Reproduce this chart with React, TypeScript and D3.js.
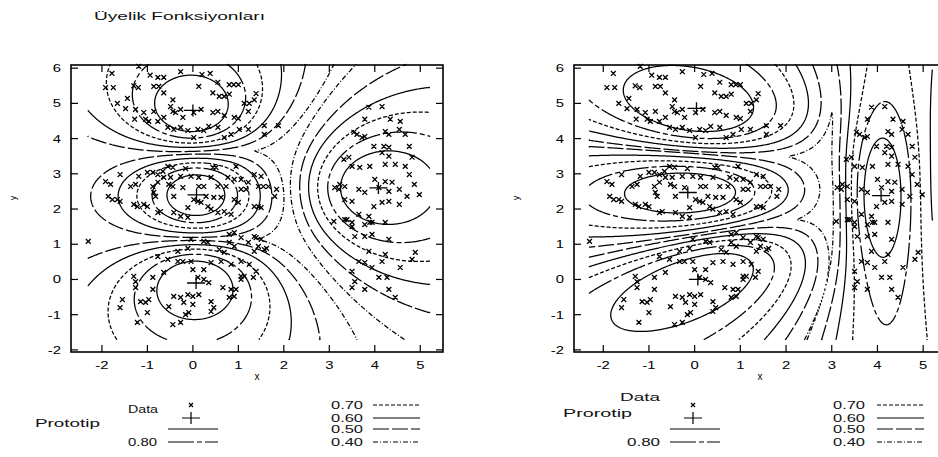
import * as d3 from "d3";

type Pt = [number, number];

// axis ticks
const xTicks = [-2, -1, 0, 1, 2, 3, 4, 5];
const yTicks = [-2, -1, 0, 1, 2, 3, 4, 5, 6];

// contour levels and their line styles (undefined = solid)
const levels = [0.9, 0.8, 0.7, 0.6, 0.5, 0.4];
const levelDashes = [undefined, "26,3,5,3", "4,2", undefined, "16,3", "5,2,1,2"];

// prototypes
const fcmCenters: Pt[] = [[0.0, 4.8], [0.08, 2.4], [0.07, -0.1], [4.08, 2.6]];
const gkCenters: Pt[] = [[0.04, 4.86], [-0.15, 2.47], [0.07, 0.0], [4.08, 2.38]];
const gkAxisRatio = [1.6, 1.9, 2.0, 3.7];
const gkAngle = [-12, 0, 28, 90];
const fuzzifier = 1.9;

// data points, by cluster
const pointsTop: Pt[] = [
  [-1.78, 5.85], [-1.19, 6.05], [-0.94, 5.8], [-0.77, 5.74], [-0.64, 5.74], [-0.27, 5.9], [0.2, 5.82],
  [0.38, 5.85], [0.55, 5.6], [0.8, 5.53], [0.9, 5.53], [1.0, 5.53], [-1.92, 5.45], [-1.75, 5.45],
  [-1.3, 5.5], [-1.2, 5.45], [-0.86, 5.48], [-0.75, 5.48], [-0.64, 5.3], [0.13, 5.48], [0.44, 5.3],
  [0.58, 5.2], [0.69, 5.2], [0.8, 5.26], [1.39, 5.28], [1.13, 5.0], [1.24, 5.0], [1.35, 5.1],
  [-1.66, 5.0], [-1.44, 5.14], [-1.48, 4.85], [-1.26, 4.83], [-1.08, 4.74], [-0.86, 4.77], [-0.44, 5.1],
  [-0.49, 4.91], [-0.44, 4.77], [-0.38, 4.74], [-0.27, 4.83], [-0.22, 4.6], [0.02, 4.74], [0.18, 4.83],
  [0.44, 4.74], [0.55, 4.77], [0.69, 4.66], [0.91, 4.6], [1.0, 4.57], [1.22, 4.77], [-1.28, 4.55],
  [-1.04, 4.55], [-0.97, 4.49], [-0.77, 4.49], [-0.64, 4.6], [-0.55, 4.32], [-0.42, 4.26], [-0.27, 4.32],
  [-0.11, 4.23], [0.11, 4.26], [0.24, 4.23], [0.35, 4.35], [0.55, 4.32], [0.84, 4.12], [1.02, 4.26],
  [1.22, 4.26], [1.57, 4.37], [1.88, 4.37], [1.57, 4.12], [0.02, 4.03], [0.69, 4.03],
];
const pointsMiddle: Pt[] = [
  [-0.55, 3.21], [-0.44, 3.18], [-0.16, 3.15], [0.44, 3.18], [0.51, 3.18], [0.95, 3.21], [-1.6, 2.98],
  [-1.19, 2.93], [-1.0, 3.04], [-0.88, 3.04], [-0.77, 2.98], [-0.66, 3.07], [-0.64, 2.9], [-0.49, 2.9],
  [-0.27, 2.93], [-0.04, 2.93], [0.13, 2.9], [0.4, 2.9], [0.77, 2.9], [0.91, 2.84], [1.06, 2.84],
  [1.22, 2.76], [1.35, 2.98], [-1.92, 2.78], [-1.81, 2.7], [-1.37, 2.64], [-1.26, 2.7], [-0.88, 2.64],
  [-0.77, 2.76], [-0.53, 2.7], [-0.44, 2.64], [-0.22, 2.61], [0.13, 2.64], [0.24, 2.64], [0.55, 2.64],
  [0.73, 2.64], [1.06, 2.56], [1.17, 2.56], [1.55, 2.64], [1.66, 2.64], [1.84, 2.56], [-1.86, 2.36],
  [-1.77, 2.27], [-1.66, 2.27], [-1.6, 2.22], [-1.3, 2.13], [-1.22, 2.07], [-1.08, 2.13], [-1.0, 2.07],
  [-0.86, 2.47], [-0.82, 2.36], [-0.42, 2.36], [0.02, 2.27], [0.11, 2.22], [0.18, 2.19], [0.29, 2.36],
  [0.46, 2.33], [0.62, 2.33], [0.91, 2.27], [1.0, 2.19], [1.44, 2.07], [1.5, 2.04], [-0.77, 1.9],
  [-0.71, 1.93], [-0.42, 1.9], [-0.27, 1.79], [-0.11, 1.76], [0.33, 2.07], [0.4, 2.0], [0.55, 1.9],
  [0.69, 1.93], [0.84, 1.85], [-0.11, 2.04], [1.8, 2.36], [1.44, 2.64], [1.5, 2.93], [1.35, 2.07],
];
const pointsBottom: Pt[] = [
  [-0.04, 1.14], [0.24, 1.08], [0.33, 1.05], [0.8, 1.28], [0.91, 1.33], [1.06, 1.19], [1.22, 1.05],
  [1.39, 1.19], [1.5, 1.14], [0.8, 1.05], [0.91, 0.94], [1.35, 0.8], [1.57, 0.85], [0.58, 0.85],
  [0.69, 0.77], [-0.33, 0.8], [-0.11, 0.88], [-0.77, 0.65], [-0.55, 0.57], [-0.33, 0.51], [-0.22, 0.51],
  [-0.04, 0.51], [0.4, 0.48], [0.62, 0.51], [0.84, 0.43], [1.06, 0.51], [1.24, 0.43], [1.39, 0.23],
  [0.0, 0.28], [0.24, 0.28], [-0.64, 0.2], [-1.3, 0.09], [-1.26, -0.06], [-1.26, -0.23], [-0.88, 0.06],
  [0.11, 0.06], [0.24, 0.0], [0.35, -0.09], [1.06, 0.09], [1.33, 0.06], [0.66, -0.23], [0.84, -0.28],
  [0.95, -0.28], [0.8, -0.51], [0.91, -0.48], [-0.88, -0.28], [-0.11, -0.43], [0.0, -0.48], [0.13, -0.43],
  [-0.42, -0.48], [-0.27, -0.51], [-0.53, -0.77], [-0.2, -0.65], [0.0, -0.71], [0.4, -0.63], [0.46, -0.8],
  [0.4, -0.91], [-1.15, -0.63], [-1.04, -0.65], [-0.97, -0.57], [-1.55, -0.57], [-1.6, -0.8], [-1.0, -0.94],
  [-0.16, -1.0], [-0.09, -0.94], [-1.22, -1.22], [-0.44, -1.28], [-0.27, -1.22], [1.44, 0.94], [1.62, 0.88],
  [1.35, 1.22], [1.06, 0.0], [1.13, 0.09], [-2.3, 1.08],
];
const pointsRight: Pt[] = [
  [3.87, 4.89], [4.16, 4.91], [3.78, 4.55], [4.34, 4.55], [4.56, 4.49], [3.54, 4.18], [3.61, 4.12],
  [3.72, 4.03], [3.78, 4.06], [4.23, 4.2], [4.31, 4.12], [4.54, 4.26], [4.67, 4.12], [3.98, 3.78],
  [4.2, 3.78], [4.31, 3.75], [4.76, 3.78], [4.16, 3.6], [4.31, 3.5], [3.32, 3.41], [3.43, 3.47],
  [4.82, 3.47], [3.5, 3.21], [3.67, 3.18], [3.89, 3.21], [4.23, 3.27], [4.45, 3.27], [4.67, 3.21],
  [4.76, 2.98], [3.23, 2.7], [3.34, 2.64], [4.0, 2.84], [4.23, 2.78], [4.38, 2.76], [4.87, 2.7],
  [3.12, 2.61], [3.21, 2.56], [3.65, 2.56], [3.78, 2.47], [4.09, 2.61], [4.31, 2.5], [4.54, 2.56],
  [4.71, 2.36], [4.98, 2.41], [3.34, 2.27], [3.5, 2.22], [3.98, 2.07], [4.16, 2.19], [4.31, 2.22],
  [4.54, 2.13], [3.65, 1.85], [3.87, 1.79], [3.1, 1.65], [3.34, 1.7], [3.5, 1.62], [3.89, 1.62],
  [4.23, 1.62], [3.56, 1.22], [3.78, 1.22], [4.31, 1.14], [3.39, 1.7], [3.5, 1.5], [3.78, 1.56],
  [3.94, 1.62], [3.94, 1.28], [3.87, 0.8], [4.23, 0.71], [4.89, 0.77], [4.82, 0.57], [3.65, 0.51],
  [3.78, 0.48], [3.94, 0.34], [4.16, 0.51], [4.56, 0.34], [3.5, 0.23], [3.56, -0.06], [4.09, 0.06],
  [4.27, 0.06], [3.5, -0.23], [3.78, -0.28], [4.31, -0.28], [4.45, -0.51],
];
const allPoints = [...pointsTop, ...pointsMiddle, ...pointsBottom, ...pointsRight];

// area the contours were computed on
const gridX: Pt = [-2.3, 5.2];
const gridY: Pt = [-1.7, 6.1];
const gridStep = 0.025;

const FONT = "'Liberation Sans', Arial, sans-serif";

const fcmDist = (k: number, x: number, y: number) => {
  const dx = x - fcmCenters[k][0];
  const dy = y - fcmCenters[k][1];
  return dx * dx + dy * dy;
};

const gkDist = (k: number, x: number, y: number) => {
  const dx = x - gkCenters[k][0];
  const dy = y - gkCenters[k][1];
  const a = (gkAngle[k] * Math.PI) / 180;
  const u = dx * Math.cos(a) + dy * Math.sin(a);
  const v = -dx * Math.sin(a) + dy * Math.cos(a);
  const r = gkAxisRatio[k];
  return (u * u) / r + v * v * r;
};

function membershipGrid(dist2: (k: number, x: number, y: number) => number, nk: number) {
  const nx = Math.round((gridX[1] - gridX[0]) / gridStep) + 1;
  const ny = Math.round((gridY[1] - gridY[0]) / gridStep) + 1;
  const values = new Array(nx * ny);
  const e = 1 / (fuzzifier - 1);
  const d = new Array(nk);
  for (let j = 0; j < ny; j++) {
    for (let i = 0; i < nx; i++) {
      const x = gridX[0] + i * gridStep;
      const y = gridY[0] + j * gridStep;
      for (let k = 0; k < nk; k++) d[k] = Math.max(dist2(k, x, y), 1e-9);
      let best = 0;
      for (let k = 0; k < nk; k++) {
        let s = 0;
        for (let l = 0; l < nk; l++) s += Math.pow(d[k] / d[l], e);
        best = Math.max(best, 1 / s);
      }
      values[j * nx + i] = best;
    }
  }
  return { values, nx, ny };
}

// cut the closed rings of d3.contours open where they run along the grid border
function openLines(ring: number[][], nx: number, ny: number) {
  const onB = (p: number[]) => p[0] <= 0 || p[0] >= nx || p[1] <= 0 || p[1] >= ny;
  const n = ring.length - 1;
  const isEdge = (k: number) => onB(ring[k]) && onB(ring[k + 1]);
  let start = -1;
  for (let k = 0; k < n; k++) if (isEdge(k)) { start = k; break; }
  if (start < 0) return [ring];
  const lines: number[][][] = [];
  let cur: number[][] = [];
  for (let t = 1; t <= n; t++) {
    const k = (start + t) % n;
    if (isEdge(k)) {
      if (cur.length > 1) lines.push(cur);
      cur = [];
    } else {
      if (!cur.length) cur.push(ring[k]);
      cur.push(ring[k + 1]);
    }
  }
  if (cur.length > 1) lines.push(cur);
  return lines;
}

interface PanelProps {
  left: number;
  right: number;
  xDomain: Pt;
  dist2: (k: number, x: number, y: number) => number;
  centers: Pt[];
}

const top = 65;
const bottom = 352;
const yDomain: Pt = [-2.06, 6.09];

const Panel = ({ left, right, xDomain, dist2, centers }: PanelProps) => {
  const xs = d3.scaleLinear().domain(xDomain).range([left, right]);
  const ys = d3.scaleLinear().domain(yDomain).range([bottom, top]);
  const { values, nx, ny } = membershipGrid(dist2, centers.length);
  const contours = d3.contours().size([nx, ny]).thresholds(levels)(values);
  const line = d3.line();

  const paths: { d: string; dash?: string }[] = [];
  contours.forEach((c) => {
    const li = levels.findIndex((l) => Math.abs(l - c.value) < 1e-9);
    c.coordinates.forEach((poly) =>
      poly.forEach((ring) =>
        openLines(ring as number[][], nx, ny).forEach((pts) => {
          const px = pts.map(
            (p) =>
              [
                xs(gridX[0] + (p[0] - 0.5) * gridStep),
                ys(gridY[0] + (p[1] - 0.5) * gridStep),
              ] as [number, number],
          );
          paths.push({ d: line(px) || "", dash: levelDashes[li] });
        }),
      ),
    );
  });

  const ms = 2.4;
  const markers = allPoints
    .map((p) => {
      const cx = xs(p[0]);
      const cy = ys(p[1]);
      return `M${cx - ms},${cy - ms}L${cx + ms},${cy + ms}M${cx + ms},${cy - ms}L${cx - ms},${cy + ms}`;
    })
    .join("");

  const tl = 7;
  return (
    <g>
      {paths.map((p, i) => (
        <path key={i} d={p.d} fill="none" stroke="#000" strokeWidth={1.25} strokeDasharray={p.dash} />
      ))}
      <path d={markers} stroke="#000" strokeWidth={1.3} fill="none" />
      {centers.map((c, i) => (
        <path
          key={i}
          d={`M${xs(c[0]) - 9},${ys(c[1])}H${xs(c[0]) + 9}M${xs(c[0])},${ys(c[1]) - 6}V${ys(c[1]) + 6}`}
          stroke="#000"
          strokeWidth={1.3}
        />
      ))}
      {/* frame and mirrored inward ticks */}
      <rect x={left} y={top} width={right - left} height={bottom - top} fill="none" stroke="#000" strokeWidth={1.6} />
      {xTicks.map((t) => (
        <g key={t}>
          <line x1={xs(t)} x2={xs(t)} y1={bottom} y2={bottom - tl} stroke="#000" strokeWidth={1.2} />
          <line x1={xs(t)} x2={xs(t)} y1={top} y2={top + tl} stroke="#000" strokeWidth={1.2} />
          <text
            transform={`translate(${xs(t)},${369}) scale(1.35,1)`}
            textAnchor="middle"
            fontSize={11}
            fontFamily={FONT}
          >
            {t}
          </text>
        </g>
      ))}
      {yTicks.map((t) => (
        <g key={t}>
          <line x1={left} x2={left + tl} y1={ys(t)} y2={ys(t)} stroke="#000" strokeWidth={1.2} />
          <line x1={right} x2={right - tl} y1={ys(t)} y2={ys(t)} stroke="#000" strokeWidth={1.2} />
          <text
            transform={`translate(${left - 10},${ys(t) + 4}) scale(1.35,1)`}
            textAnchor="end"
            fontSize={11}
            fontFamily={FONT}
          >
            {t}
          </text>
        </g>
      ))}
      <text x={(left + right) / 2} y={380} textAnchor="middle" fontSize={10} fontFamily={FONT}>
        x
      </text>
      <text
        transform={`translate(${left - 55},198) rotate(-90)`}
        textAnchor="middle"
        fontSize={9}
        fontFamily={FONT}
      >
        y
      </text>
    </g>
  );
};

interface LegendProps {
  protoLabel: string;
  protoX: number;
  protoY: number;
  protoW: number;
  dataX: number;
  dataY: number;
  dataW: number;
  markX: number;
  lineX: number;
  lowX: number;
  lowW: number;
  colX: number;
  colLineX: number;
}

const T = ({ x, y, w, children }: { x: number; y: number; w: number; children: string }) => (
  <text x={x} y={y} fontSize={10} fill="#111" fontFamily={FONT} textLength={w} lengthAdjust="spacingAndGlyphs">
    {children}
  </text>
);

const rowY = [405, 418, 429, 442];

const Legend = (p: LegendProps) => {
  const lw = 50;
  const m = p.markX;
  return (
    <g>
      <T x={p.dataX} y={p.dataY + 4} w={p.dataW}>Data</T>
      <path d={`M${m - 2},${rowY[0] - 2}L${m + 2},${rowY[0] + 2}M${m + 2},${rowY[0] - 2}L${m - 2},${rowY[0] + 2}`} stroke="#000" strokeWidth={1.2} />
      <T x={p.protoX} y={p.protoY + 4} w={p.protoW}>{p.protoLabel}</T>
      <path d={`M${m - 9},${rowY[1]}H${m + 9}M${m},${rowY[1] - 6}V${rowY[1] + 6}`} stroke="#000" strokeWidth={1.2} />
      <line x1={p.lineX} x2={p.lineX + lw} y1={rowY[2]} y2={rowY[2]} stroke="#000" strokeWidth={1.2} />
      <T x={p.lowX} y={rowY[3] + 4} w={p.lowW}>0.80</T>
      <line x1={p.lineX} x2={p.lineX + lw} y1={rowY[3]} y2={rowY[3]} stroke="#000" strokeWidth={1.2} strokeDasharray={levelDashes[1]} />
      {["0.70", "0.60", "0.50", "0.40"].map((lab, i) => (
        <g key={lab}>
          <T x={p.colX} y={rowY[i] + 4} w={32}>{lab}</T>
          <line
            x1={p.colLineX}
            x2={p.colLineX + 47}
            y1={rowY[i]}
            y2={rowY[i]}
            stroke="#000"
            strokeWidth={1.2}
            strokeDasharray={levelDashes[i + 2]}
          />
        </g>
      ))}
    </g>
  );
};

export default function App() {
  return (
    <div style={{ position: "absolute", left: 0, top: 0 }}>
      <svg width={938} height={457} style={{ display: "block", background: "#fff" }}>
        <rect width={938} height={457} fill="#fff" />
        <text x={94} y={20} fontSize={11} fill="#111" fontFamily={FONT} textLength={171} lengthAdjust="spacingAndGlyphs">
          Üyelik Fonksiyonları
        </text>
        <Panel left={71} right={443} xDomain={[-2.68, 5.5]} dist2={fcmDist} centers={fcmCenters} />
        <Panel left={574} right={946} xDomain={[-2.64, 5.5]} dist2={gkDist} centers={gkCenters} />
        <Legend
          protoLabel="Prototip" protoX={35} protoY={423} protoW={65}
          dataX={128} dataY={409} dataW={30} markX={191}
          lineX={168} lowX={128} lowW={29} colX={331} colLineX={373}
        />
        <Legend
          protoLabel="Prorotip" protoX={563} protoY={413} protoW={69}
          dataX={620} dataY={397} dataW={40} markX={693}
          lineX={670} lowX={627} lowW={33} colX={833} colLineX={877}
        />
        <rect x={624} y={434} width={40} height={3} fill="#fff" />
      </svg>
    </div>
  );
}
